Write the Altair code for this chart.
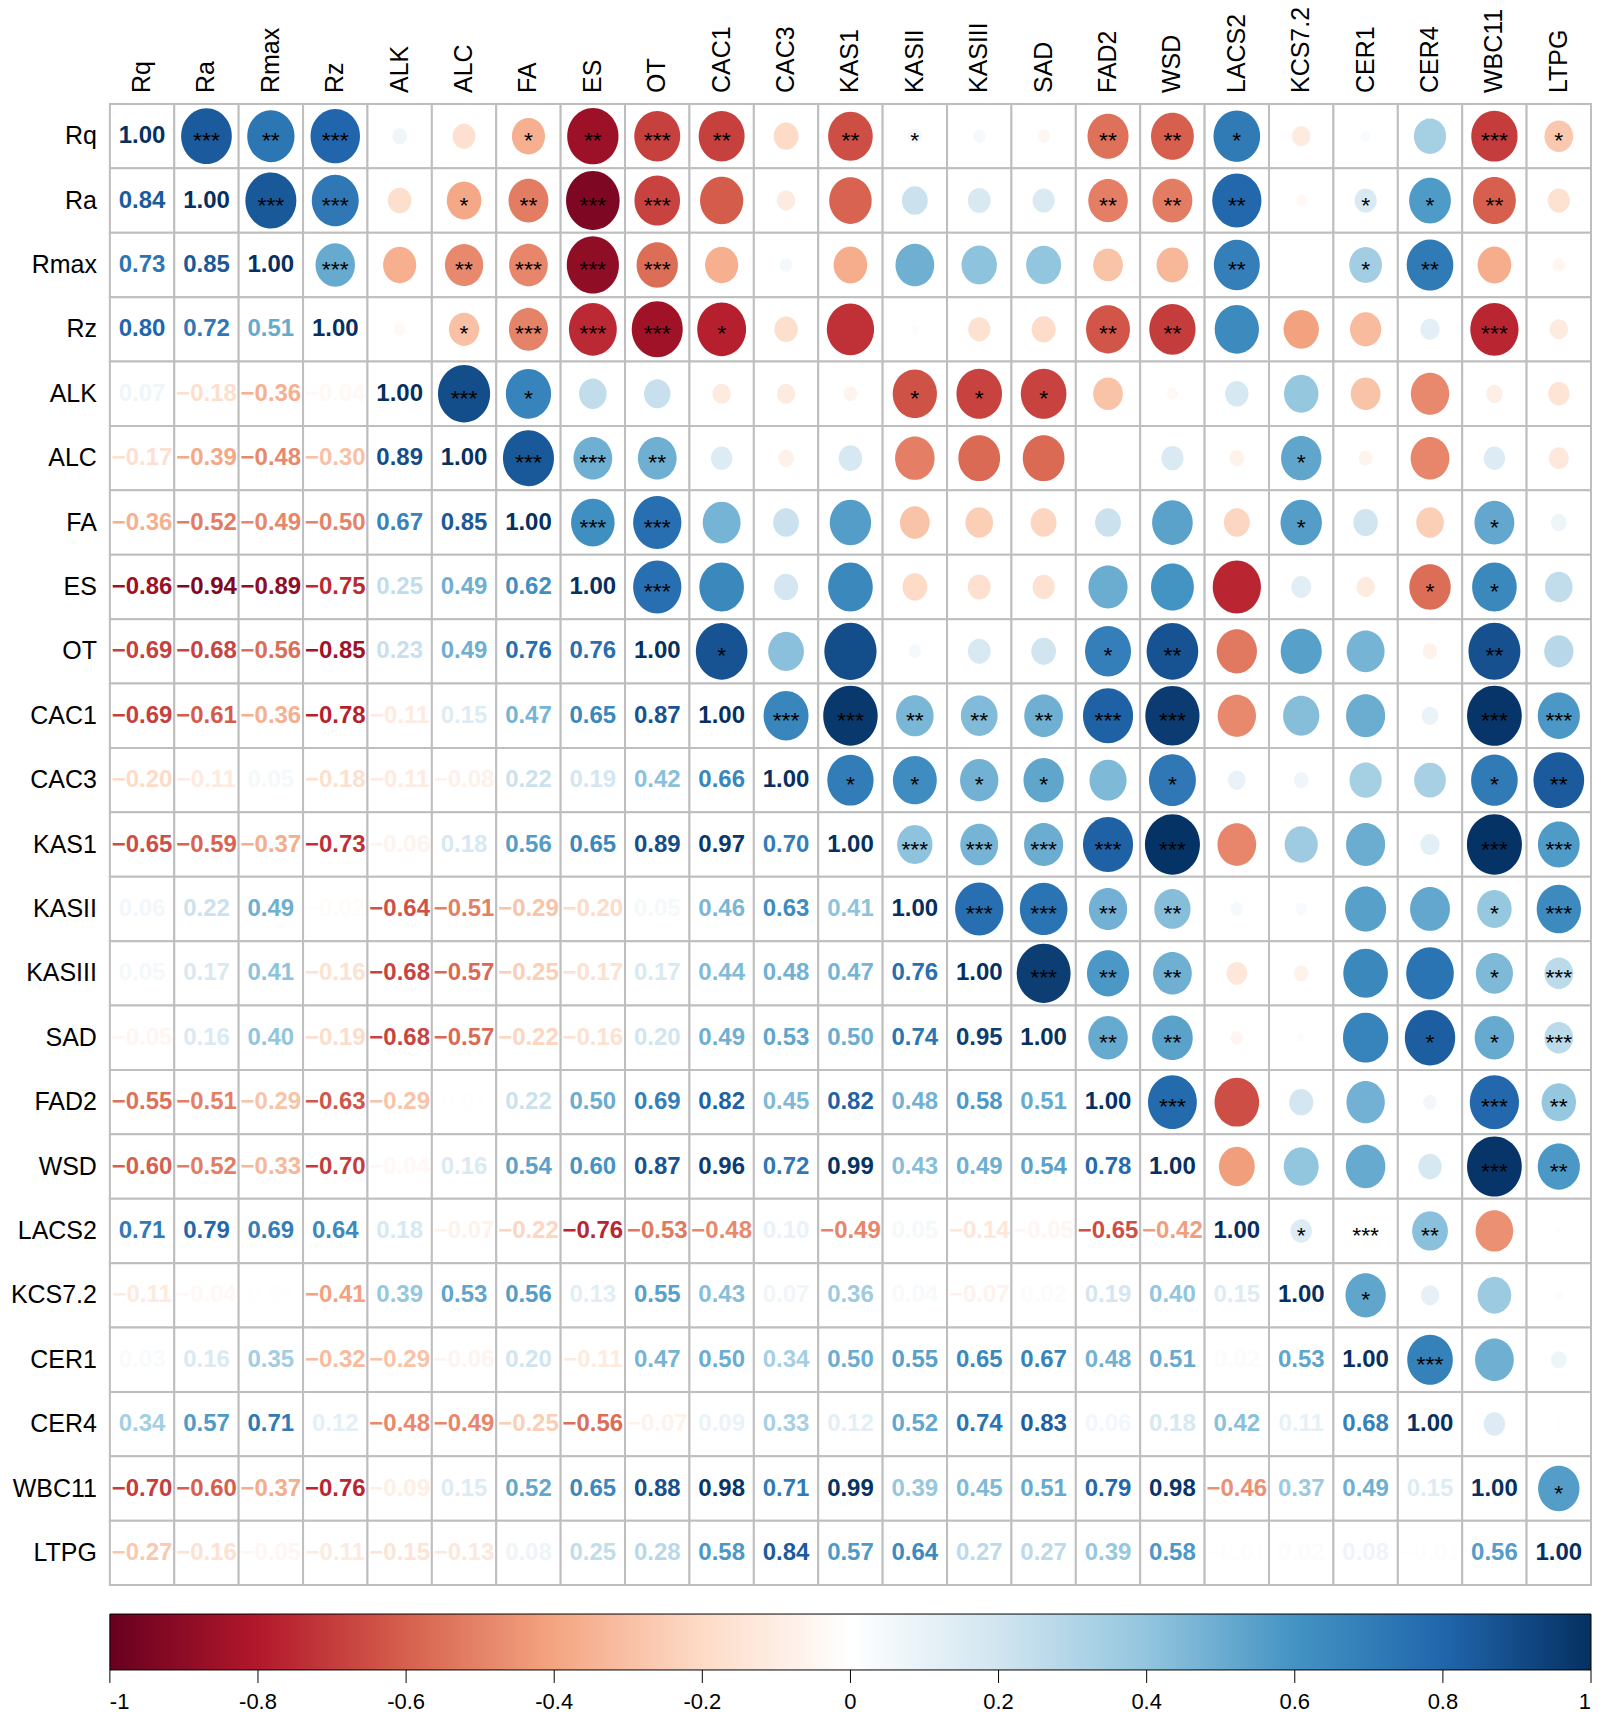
import altair as alt
import pandas as pd

FONT = "Liberation Sans"

labels = ["Rq", "Ra", "Rmax", "Rz", "ALK", "ALC", "FA", "ES", "OT", "CAC1", "CAC3",
          "KAS1", "KASII", "KASIII", "SAD", "FAD2", "WSD", "LACS2", "KCS7.2", "CER1",
          "CER4", "WBC11", "LTPG"]

# lower triangle (row i, columns 0..i-1)
lower_rows = [
    [],
    [0.84],
    [0.73, 0.85],
    [0.80, 0.72, 0.51],
    [0.07, -0.18, -0.36, -0.04],
    [-0.17, -0.39, -0.48, -0.30, 0.89],
    [-0.36, -0.52, -0.49, -0.50, 0.67, 0.85],
    [-0.86, -0.94, -0.89, -0.75, 0.25, 0.49, 0.62],
    [-0.69, -0.68, -0.56, -0.85, 0.23, 0.49, 0.76, 0.76],
    [-0.69, -0.61, -0.36, -0.78, -0.11, 0.15, 0.47, 0.65, 0.87],
    [-0.20, -0.11, 0.05, -0.18, -0.11, -0.08, 0.22, 0.19, 0.42, 0.66],
    [-0.65, -0.59, -0.37, -0.73, -0.06, 0.18, 0.56, 0.65, 0.89, 0.97, 0.70],
    [0.06, 0.22, 0.49, -0.02, -0.64, -0.51, -0.29, -0.20, 0.05, 0.46, 0.63, 0.41],
    [0.05, 0.17, 0.41, -0.16, -0.68, -0.57, -0.25, -0.17, 0.17, 0.44, 0.48, 0.47, 0.76],
    [-0.05, 0.16, 0.40, -0.19, -0.68, -0.57, -0.22, -0.16, 0.20, 0.49, 0.53, 0.50, 0.74, 0.95],
    [-0.55, -0.51, -0.29, -0.63, -0.29, 0.01, 0.22, 0.50, 0.69, 0.82, 0.45, 0.82, 0.48, 0.58, 0.51],
    [-0.60, -0.52, -0.33, -0.70, -0.04, 0.16, 0.54, 0.60, 0.87, 0.96, 0.72, 0.99, 0.43, 0.49, 0.54, 0.78],
    [0.71, 0.79, 0.69, 0.64, 0.18, -0.07, -0.22, -0.76, -0.53, -0.48, 0.10, -0.49, 0.05, -0.14, -0.05, -0.65, -0.42],
    [-0.11, -0.04, 0.01, -0.41, 0.39, 0.53, 0.56, 0.13, 0.55, 0.43, 0.07, 0.36, 0.04, -0.07, 0.02, 0.19, 0.40, 0.15],
    [0.03, 0.16, 0.35, -0.32, -0.29, -0.06, 0.20, -0.11, 0.47, 0.50, 0.34, 0.50, 0.55, 0.65, 0.67, 0.48, 0.51, 0.02, 0.53],
    [0.34, 0.57, 0.71, 0.12, -0.48, -0.49, -0.25, -0.56, -0.07, 0.09, 0.33, 0.12, 0.52, 0.74, 0.83, 0.06, 0.18, 0.42, 0.11, 0.68],
    [-0.70, -0.60, -0.37, -0.76, -0.09, 0.15, 0.52, 0.65, 0.88, 0.98, 0.71, 0.99, 0.39, 0.45, 0.51, 0.79, 0.98, -0.46, 0.37, 0.49, 0.15],
    [-0.27, -0.16, -0.05, -0.11, -0.15, -0.13, 0.08, 0.25, 0.28, 0.58, 0.84, 0.57, 0.64, 0.27, 0.27, 0.39, 0.58, -0.01, 0.02, 0.08, -0.01, 0.56],
]

# significance stars in the upper triangle (row i, columns i+1..n-1)
upper_stars = [
    ["***", "**", "***", "", "", "*", "**", "***", "**", "", "**", "*", "", "", "**", "**", "*", "", "", "", "***", "*"],
    ["***", "***", "", "*", "**", "***", "***", "", "", "", "", "", "", "**", "**", "**", "", "*", "*", "**", ""],
    ["***", "", "**", "***", "***", "***", "", "", "", "", "", "", "", "", "**", "", "*", "**", "", ""],
    ["", "*", "***", "***", "***", "*", "", "", "", "", "", "**", "**", "", "", "", "", "***", ""],
    ["***", "*", "", "", "", "", "", "*", "*", "*", "", "", "", "", "", "", "", ""],
    ["***", "***", "**", "", "", "", "", "", "", "", "", "", "*", "", "", "", ""],
    ["***", "***", "", "", "", "", "", "", "", "", "", "*", "", "", "*", ""],
    ["***", "", "", "", "", "", "", "", "", "", "", "", "*", "*", ""],
    ["*", "", "", "", "", "", "*", "**", "", "", "", "", "**", ""],
    ["***", "***", "**", "**", "**", "***", "***", "", "", "", "", "***", "***"],
    ["*", "*", "*", "*", "", "*", "", "", "", "", "*", "**"],
    ["***", "***", "***", "***", "***", "", "", "", "", "***", "***"],
    ["***", "***", "**", "**", "", "", "", "", "*", "***"],
    ["***", "**", "**", "", "", "", "", "*", "***"],
    ["**", "**", "", "", "", "*", "*", "***"],
    ["***", "", "", "", "", "***", "**"],
    ["", "", "", "", "***", "**"],
    ["*", "***", "**", "", ""],
    ["*", "", "", ""],
    ["***", "", ""],
    ["", ""],
    ["*"],
    [],
]

color_stops = [-1, -0.8, -0.6, -0.4, -0.2, 0, 0.2, 0.4, 0.6, 0.8, 1]
palette = ["#67001F", "#B2182B", "#D6604D", "#F4A582", "#FDDBC7", "#FFFFFF",
           "#D1E5F0", "#92C5DE", "#4393C3", "#2166AC", "#053061"]
bar_ticks = [-1, -0.8, -0.6, -0.4, -0.2, 0, 0.2, 0.4, 0.6, 0.8, 1]

n = len(labels)
CELL = 64.48
W = n * CELL
YMAX = 24.6
H = YMAX * CELL

recs = []
for i in range(n):
    for j in range(n):
        if j < i:
            r, part = lower_rows[i][j], "lower"
        elif j == i:
            r, part = 1.0, "diag"
        else:
            r, part = lower_rows[j][i], "upper"
        recs.append(dict(
            i=i, j=j, x0=j, x1=j + 1, y0=i, y1=i + 1, xc=j + 0.5, yc=i + 0.5,
            r=r, absr=abs(r), part=part,
            txt=f"{r:.2f}".replace("-", "\u2212"),
            stars=upper_stars[i][j - i - 1] if j > i else "",
        ))
df = pd.DataFrame(recs)
lab_df = pd.DataFrame({"lab": labels, "pos": [k + 0.5 for k in range(n)]})
tick_df = pd.DataFrame({"v": bar_ticks, "tx": [(v + 1) / 2 * n for v in bar_ticks]})

xs = alt.Scale(domain=[0, n], nice=False, zero=False)
ys = alt.Scale(domain=[0, YMAX], nice=False, zero=False, reverse=True)
cs = alt.Scale(domain=color_stops, range=palette, interpolate="rgb")

base = alt.Chart(df)
XC = alt.X("xc:Q", scale=xs, axis=None)
YC = alt.Y("yc:Q", scale=ys, axis=None)

cells = base.mark_rect(fill="white", stroke="#BEBEBE", strokeWidth=2).encode(
    x=alt.X("x0:Q", scale=xs, axis=None), x2="x1:Q",
    y=alt.Y("y0:Q", scale=ys, axis=None), y2="y1:Q",
)

legend = alt.Legend(
    orient="none", direction="horizontal", legendX=0, legendY=1512,
    gradientLength=W, gradientThickness=56, gradientStrokeColor="black",
    gradientStrokeWidth=1, values=bar_ticks, labelFont=FONT, labelFontSize=22,
    labelColor="black", labelOffset=22, labelAlign="center", labelOverlap=False,
    title=None, labelExpr="replace(format(datum.value, '~g'), '\u2212', '-')",
)

ELLIPSE = "M 0 -1 A 0.91 1 0 1 1 0 1 A 0.91 1 0 1 1 0 -1 Z"

circles = base.transform_filter("datum.part == 'upper'").mark_point(
    shape=ELLIPSE, filled=True, opacity=1, strokeWidth=0
).encode(
    x=XC, y=YC,
    size=alt.Size("absr:Q", scale=alt.Scale(domain=[0, 1], range=[0, 3700], zero=True), legend=None),
    color=alt.Color("r:Q", scale=cs, legend=legend),
)

nums = base.transform_filter("datum.part != 'upper'").mark_text(
    font=FONT, fontSize=24, fontWeight="bold"
).encode(x=XC, y=YC, text="txt:N", color=alt.Color("r:Q", scale=cs, legend=None))

stars = base.transform_filter("datum.stars != ''").mark_text(
    font=FONT, fontSize=23, color="black", dy=5
).encode(x=XC, y=YC, text="stars:N")

row_labels = alt.Chart(lab_df).mark_text(
    font=FONT, fontSize=25, align="right", baseline="middle", dx=-13, color="black"
).encode(x=alt.value(0), y=alt.Y("pos:Q", scale=ys, axis=None), text="lab:N")

col_labels = alt.Chart(lab_df).mark_text(
    font=FONT, fontSize=25, align="left", baseline="middle", angle=270, dx=11, color="black"
).encode(x=alt.X("pos:Q", scale=xs, axis=None), y=alt.value(0), text="lab:N")

bar_tick_marks = alt.Chart(tick_df).mark_rule(color="black", strokeWidth=1).encode(
    x=alt.X("tx:Q", scale=xs, axis=None), y=alt.value(1568), y2=alt.value(1581)
)

chart = alt.layer(
    cells, circles, nums, stars, row_labels, col_labels, bar_tick_marks
).properties(
    width=W, height=H,
    autosize=alt.AutoSizeParams(type="none"),
    padding={"left": 102, "top": 95, "right": 5, "bottom": 34},
).configure_view(stroke=None)

chart.save("out.html", embed_options={"renderer": "svg", "actions": False})
